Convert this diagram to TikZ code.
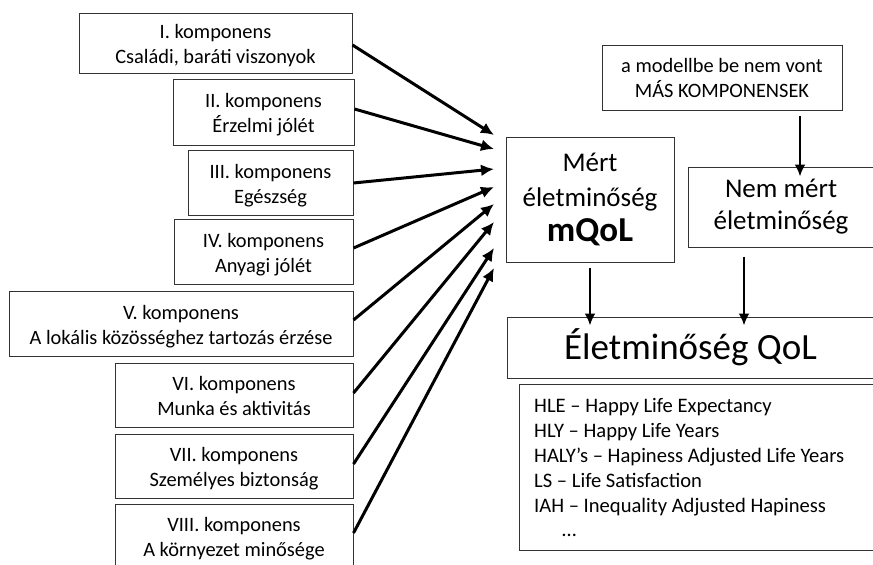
\documentclass[tikz,border=0pt]{standalone}
\usepackage{fontspec}
\setmainfont{Carlito}
\usetikzlibrary{arrows.meta}
\begin{document}
\begin{tikzpicture}[x=1pt,y=-1pt,
  box/.style={draw=black!80,line width=1pt,inner sep=0pt,align=center,font=\fontsize{20.4}{25}\selectfont},
  comp/.style={box,text height=45pt,text depth=3.4pt},
  arr/.style={line width=3pt,-{Latex[length=13pt,width=12pt]}},
  varr/.style={line width=2.4pt,-{Latex[length=12pt,width=11pt]}}]
\useasboundingbox (0,0) rectangle (873,565);
% left component boxes
\node[comp,minimum width=273pt,minimum height=60pt] (c1) at (215.5,43) {I. komponens\\Családi, baráti viszonyok};
\node[comp,minimum width=181pt,minimum height=66pt] (c2) at (263.5,112) {II. komponens\\Érzelmi jólét};
\node[comp,minimum width=165pt,minimum height=65pt] (c3) at (270.5,182.5) {III. komponens\\Egészség};
\node[comp,minimum width=179pt,minimum height=65pt] (c4) at (263.5,251.5) {IV. komponens\\Anyagi jólét};
\node[comp,minimum width=344pt,minimum height=65pt] (c5) at (181,323.5) {V. komponens\\A lokális közösséghez tartozás érzése};
\node[comp,minimum width=238pt,minimum height=64pt] (c6) at (234,395) {VI. komponens\\Munka és aktivitás};
\node[comp,minimum width=238pt,minimum height=64pt] (c7) at (234,466) {VII. komponens\\Személyes biztonság};
\node[comp,minimum width=238pt,minimum height=64pt] (c8) at (234,536) {VIII. komponens\\A környezet minősége};
% right side
\node[box,minimum width=168pt,minimum height=125pt,font=\fontsize{27}{35}\selectfont] (m) at (590,199.5) {Mért\\életminőség\\{\fontsize{35}{35}\selectfont\bfseries mQoL}};
\node[box,minimum width=240pt,minimum height=65pt] (o) at (722,77.5) {a modellbe be nem vont\\MÁS KOMPONENSEK};
\node[box,minimum width=186pt,minimum height=80pt,font=\fontsize{27}{32}\selectfont] (n) at (781,207) {Nem mért\\életminőség};
\node[box,minimum width=367pt,minimum height=61pt,font=\fontsize{37}{40}\selectfont] (q) at (690.5,347.5) {Életminőség QoL};
\node[box,minimum width=355pt,minimum height=166pt,anchor=north west] (l) at (519,384) {};
\node[align=left,anchor=north west,inner sep=0pt,font=\fontsize{20.6}{24.8}\selectfont] (lt) at (534,398.5) {HLE – Happy Life Expectancy\\HLY – Happy Life Years\\HALY’s – Hapiness Adjusted Life Years\\LS – Life Satisfaction\\IAH – Inequality Adjusted Hapiness\\\hspace*{28pt}…};
% arrow targets on mQoL
\coordinate (t1) at (494,135);
\coordinate (t2) at (494,149);
\coordinate (t3) at (494,169);
\coordinate (t4) at (494,187);
\coordinate (t5) at (494,204);
\coordinate (t6) at (494,222);
\coordinate (t7) at (494,248);
\coordinate (t8) at (494,268);
\draw[arr] (c1.east |- 0,45) -- (t1);
\draw[arr] (c2.east |- 0,109) -- (t2);
\draw[arr] (c3.east |- 0,183) -- (t3);
\draw[arr] (c4.east |- 0,248) -- (t4);
\draw[arr] (c5.east |- 0,320) -- (t5);
\draw[arr] (c6.east |- 0,393) -- (t6);
\draw[arr] (c7.east |- 0,464) -- (t7);
\draw[arr] (c8.east |- 0,533) -- (t8);
% vertical arrows
\draw[varr] (o.south -| 800,0) ++(0,5) -- ([yshift=-10pt]n.north -| 800,0);
\draw[varr] ([yshift=-5pt]m.south) -- ([yshift=-9pt]q.north -| m.south);
\draw[varr] ([yshift=-9pt]n.south -| 744,0) -- ([yshift=-9pt]q.north -| 744,0);
\end{tikzpicture}
\end{document}
